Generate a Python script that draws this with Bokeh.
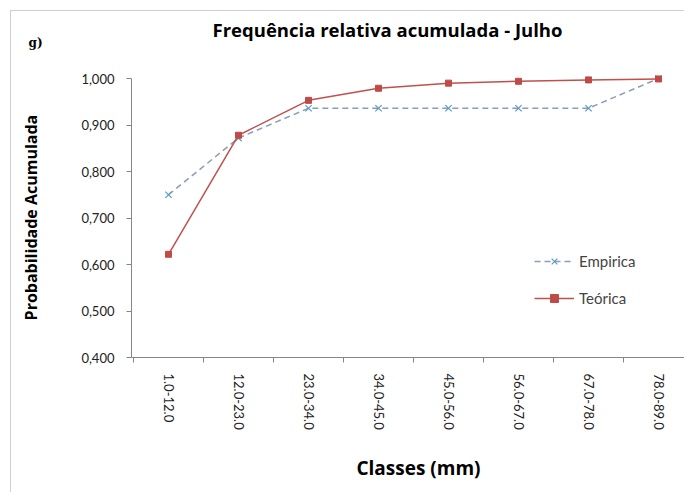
import math
from bokeh.plotting import figure
from bokeh.models import (FixedTicker, Legend, LegendItem, Label, Range1d,
                          InlineStyleSheet, LinearAxis)
from bokeh.embed import file_html
from bokeh.resources import INLINE

categories = ["1.0-12.0", "12.0-23.0", "23.0-34.0", "34.0-45.0",
              "45.0-56.0", "56.0-67.0", "67.0-78.0", "78.0-89.0"]
empirica = [0.750, 0.872, 0.936, 0.936, 0.936, 0.936, 0.936, 1.000]
teorica = [0.622, 0.878, 0.953, 0.979, 0.990, 0.994, 0.997, 0.999]
y_ticks = [0.4, 0.5, 0.6, 0.7, 0.8, 0.9, 1.0]

xs = list(range(len(categories)))

W, H = 684, 492
FONT = "Lato"
BFONT = "Open Sans"

# layout geometry (pixels): category pitch, axis positions
PITCH = 70.0
AXIS_X = 131.0       # y axis line
FIRST_BOUND = 133.0  # first category boundary
AXIS_Y = 357.0       # x axis line
YSCALE = 465.0       # pixels per unit of probability

x0 = -0.5 - FIRST_BOUND / PITCH
x1 = x0 + W / PITCH
y1 = y_ticks[0] + AXIS_Y / YSCALE
y0 = y_ticks[0] - (H - AXIS_Y) / YSCALE


def dx(px):
    return x0 + px / PITCH


def dy(py):
    return y1 - py / YSCALE


p = figure(width=W, height=H, output_backend="svg", toolbar_location=None,
           x_range=Range1d(x0, x1), y_range=Range1d(y0, y1),
           x_axis_location=None, y_axis_location=None, min_border=0)
p.stylesheets = [InlineStyleSheet(css=(
    ":host { background: "
    "linear-gradient(#cfcfcf,#cfcfcf) 10px 10px / 1px calc(100% - 10px) no-repeat, "
    "linear-gradient(#cfcfcf,#cfcfcf) 10px 10px / calc(100% - 10px) 1px no-repeat, "
    "#ffffff; }"))]
p.border_fill_color = None
p.background_fill_color = None
p.outline_line_color = None
p.grid.visible = False

# x axis
xaxis = LinearAxis(fixed_location=y_ticks[0], bounds=(dx(AXIS_X), x1))
xaxis.ticker = FixedTicker(ticks=xs, minor_ticks=[i - 0.5 for i in xs])
xaxis.major_label_overrides = {i: c for i, c in zip(xs, categories)}
xaxis.major_label_orientation = "vertical"
xaxis.major_tick_line_color = None
xaxis.minor_tick_line_color = "#868686"
xaxis.minor_tick_out = 5
xaxis.minor_tick_in = 0
xaxis.axis_line_color = "#868686"
xaxis.major_label_text_font = FONT
xaxis.major_label_text_font_size = "13px"
xaxis.major_label_text_color = "#222222"
xaxis.major_label_standoff = 10
p.add_layout(xaxis, "below")

# y axis
yaxis = LinearAxis(fixed_location=dx(AXIS_X), bounds=(y_ticks[0], y_ticks[-1]))
yaxis.ticker = FixedTicker(ticks=y_ticks)
yaxis.major_label_overrides = {t: f"{t:.3f}".replace(".", ",") for t in y_ticks}
yaxis.major_tick_out = 5
yaxis.major_tick_in = 0
yaxis.major_tick_line_color = "#868686"
yaxis.minor_tick_line_color = None
yaxis.axis_line_color = "#868686"
yaxis.major_label_text_font = FONT
yaxis.major_label_text_font_size = "13px"
yaxis.major_label_text_color = "#222222"
yaxis.major_label_standoff = 12
p.add_layout(yaxis, "left")

# series
l1 = p.line(xs, empirica, line_color="#8a9cb8", line_width=1.5, line_dash="6 4")
m1 = p.scatter(xs, empirica, marker="x", size=9, line_color="#5a9cc0", line_width=1.2)
l2 = p.line(xs, teorica, line_color="#c0504d", line_width=1.5)
m2 = p.scatter(xs, teorica, marker="square", size=6, fill_color="#be4b48",
               line_color="#be4b48")

legend = Legend(items=[LegendItem(label="Empirica", renderers=[l1, m1]),
                       LegendItem(label="Teórica", renderers=[l2, m2])],
                location=(534, 184), border_line_color=None,
                background_fill_alpha=0, label_text_font=FONT,
                label_text_font_size="15px", spacing=17, glyph_width=40,
                label_standoff=5)
p.add_layout(legend, "center")

title = Label(x=dx(387), y=dy(29), text="Frequência relativa acumulada - Julho",
              text_font=BFONT, text_font_size="18.5px", text_font_style="bold",
              text_align="center", text_baseline="middle", text_color="#000000")
p.add_layout(title)

xlab = Label(x=dx(418), y=dy(467), text="Classes (mm)", text_font=BFONT,
             text_font_size="19px", text_font_style="bold", text_align="center",
             text_baseline="middle", text_color="#000000")
p.add_layout(xlab)

ylab = Label(x=dx(30), y=dy(215), text="Probabilidade  Acumulada", angle=math.pi / 2,
             text_font=BFONT, text_font_size="16px", text_font_style="bold",
             text_align="center", text_baseline="middle", text_color="#000000")
p.add_layout(ylab)

g = Label(x=dx(28), y=dy(42), text="g)", text_font="DejaVu Serif",
          text_font_size="12px", text_font_style="bold", text_baseline="middle",
          text_color="#000000")
p.add_layout(g)

open("out.html", "w").write(file_html(p, INLINE))
